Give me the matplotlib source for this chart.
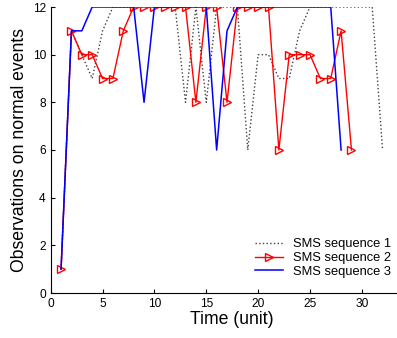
import matplotlib
matplotlib.use("Agg")
import matplotlib.pyplot as plt
import numpy as np

plt.rcParams['font.family'] = ['Liberation Sans', 'DejaVu Sans']

t1 = np.arange(1, 33)
seq1 = [1, 11, 10, 9, 11, 12, 12, 12, 12, 12, 12, 12, 8, 12, 8, 12,
        12, 12, 6, 10, 10, 9, 9, 11, 12, 12, 12, 12, 12, 12, 12, 6]
t2 = np.arange(1, 30)
seq2 = [1, 11, 10, 10, 9, 9, 11, 12, 12, 12, 12, 12, 12, 8, 12, 12,
        8, 12, 12, 12, 12, 6, 10, 10, 10, 9, 9, 11, 6]
t3 = np.arange(1, 29)
seq3 = [1, 11, 11, 12, 12, 12, 12, 12, 8, 12, 12, 12, 12, 12, 12, 6,
        11, 12, 12, 12, 12, 12, 12, 12, 12, 12, 12, 6]
labels = ["SMS sequence 1", "SMS sequence 2", "SMS sequence 3"]

fig = plt.figure(figsize=(3.97, 3.38), dpi=100)
# axes run past the right edge, like the cropped original
ax = fig.add_axes([50.7 / 397, 45 / 338, 363 / 397, 286 / 338])

ax.plot(t1, seq1, linestyle=":", color="0.25", lw=1.0, label=labels[0])
ax.plot(t2, seq2, color="red", lw=1.0, marker=">", markersize=6,
        markerfacecolor="none", markeredgecolor="red", label=labels[1])
ax.plot(t3, seq3, color="blue", lw=1.1, label=labels[2])

ax.set_xlim(0, 35)
ax.set_ylim(0, 12)
ax.set_xticks(np.arange(0, 31, 5))
ax.set_yticks(np.arange(0, 13, 2))
ax.tick_params(direction="in", labelsize=8.6, length=3, width=0.8)
for side in ("top", "right"):
    ax.spines[side].set_visible(False)
ax.set_xlabel("Time (unit)", fontsize=12.7, labelpad=1)
ax.set_ylabel("Observations on normal events", fontsize=12.7, labelpad=3)

ax.legend(loc="lower left", bbox_to_anchor=(255 / 397, 60 / 338),
          bbox_transform=fig.transFigure, frameon=False, fontsize=9.3,
          borderpad=0, borderaxespad=0, handlelength=2.2,
          handletextpad=0.75, labelspacing=0.15)

fig.savefig("out.png", dpi=100)
